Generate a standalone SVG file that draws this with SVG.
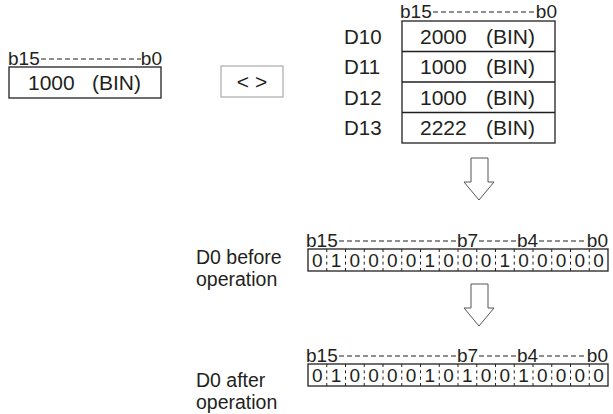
<svg xmlns="http://www.w3.org/2000/svg" width="613" height="414" viewBox="0 0 613 414">
<style>
text{font-family:"Liberation Sans",Arial,sans-serif;fill:#231f20}
.v{font-size:21px}
.l{font-size:20.5px}
.d{font-size:19.5px}
.h{font-size:19px}
.b{font-size:19px}
.box{fill:none;stroke:#231f20;stroke-width:1.3}
.dash{stroke:#231f20;stroke-width:1;stroke-dasharray:5 3;fill:none}
.sep{stroke:#231f20;stroke-width:1;stroke-dasharray:3 3.33}
.arrow{fill:#fff;stroke:#555;stroke-width:1}
</style>
<rect width="613" height="414" fill="#fff"/>
<g id="source">
<text class="h" x="8" y="65">b15</text>
<line class="dash" x1="41" y1="59" x2="141" y2="59"/>
<text class="h" x="162" y="65" text-anchor="end">b0</text>
<rect class="box" x="9" y="67" width="152" height="31"/>
<text class="v" x="28" y="90">1000</text>
<text class="v" x="92" y="90">(BIN)</text>
</g>
<g id="op">
<rect x="221" y="66" width="62" height="31" fill="#fff" stroke="#999" stroke-width="1"/>
<text class="v" x="252" y="89" text-anchor="middle">&lt; &gt;</text>
</g>
<g id="table">
<text class="h" x="400" y="18">b15</text>
<line class="dash" x1="433" y1="12" x2="535" y2="12"/>
<text class="h" x="557" y="18" text-anchor="end">b0</text>
<rect class="box" x="402" y="21" width="153" height="122"/>
<line class="box" x1="402" y1="51.5" x2="555" y2="51.5"/>
<line class="box" x1="402" y1="82" x2="555" y2="82"/>
<line class="box" x1="402" y1="112.5" x2="555" y2="112.5"/>
<text class="l" x="344" y="44">D10</text>
<text class="l" x="344" y="74">D11</text>
<text class="l" x="344" y="105">D12</text>
<text class="l" x="344" y="135">D13</text>
<text class="v" x="420" y="44">2000</text><text class="v" x="486" y="44">(BIN)</text>
<text class="v" x="420" y="74">1000</text><text class="v" x="486" y="74">(BIN)</text>
<text class="v" x="420" y="105">1000</text><text class="v" x="486" y="105">(BIN)</text>
<text class="v" x="420" y="135">2222</text><text class="v" x="486" y="135">(BIN)</text>
</g>
<g id="connectors">
<path class="arrow" d="M471,158 H488 V182 H494 L479,200 L464,182 H471 Z"/>
<path class="arrow" d="M471,284 H488 V308 H494 L479,326 L464,308 H471 Z"/>
</g>
<g id="before">
<text class="d" x="196" y="264">D0 before</text>
<text class="d" x="196" y="286">operation</text>
<text class="h" x="306" y="247">b15</text>
<line class="dash" x1="339" y1="241" x2="456" y2="241"/>
<text class="h" x="457" y="247">b7</text>
<line class="dash" x1="479" y1="241" x2="516" y2="241"/>
<text class="h" x="517" y="247">b4</text>
<line class="dash" x1="539" y1="241" x2="587" y2="241"/>
<text class="h" x="608" y="247" text-anchor="end">b0</text>
<rect class="box" x="308" y="249" width="300" height="22"/>
<g class="sep">
<line x1="326.75" y1="249" x2="326.75" y2="271"/><line x1="345.5" y1="249" x2="345.5" y2="271"/><line x1="364.25" y1="249" x2="364.25" y2="271"/><line x1="383" y1="249" x2="383" y2="271"/><line x1="401.75" y1="249" x2="401.75" y2="271"/><line x1="420.5" y1="249" x2="420.5" y2="271"/><line x1="439.25" y1="249" x2="439.25" y2="271"/><line x1="458" y1="249" x2="458" y2="271"/><line x1="476.75" y1="249" x2="476.75" y2="271"/><line x1="495.5" y1="249" x2="495.5" y2="271"/><line x1="514.25" y1="249" x2="514.25" y2="271"/><line x1="533" y1="249" x2="533" y2="271"/><line x1="551.75" y1="249" x2="551.75" y2="271"/><line x1="570.5" y1="249" x2="570.5" y2="271"/><line x1="589.25" y1="249" x2="589.25" y2="271"/>
</g>
<g class="b" text-anchor="middle">
<text x="317.4" y="267">0</text><text x="336.1" y="267">1</text><text x="354.9" y="267">0</text><text x="373.6" y="267">0</text><text x="392.4" y="267">0</text><text x="411.1" y="267">0</text><text x="429.9" y="267">1</text><text x="448.6" y="267">0</text><text x="467.4" y="267">0</text><text x="486.1" y="267">0</text><text x="504.9" y="267">1</text><text x="523.6" y="267">0</text><text x="542.4" y="267">0</text><text x="561.1" y="267">0</text><text x="579.9" y="267">0</text><text x="598.6" y="267">0</text>
</g>
</g>
<g id="after">
<text class="d" x="196" y="387">D0 after</text>
<text class="d" x="196" y="409">operation</text>
<text class="h" x="306" y="362">b15</text>
<line class="dash" x1="339" y1="356" x2="456" y2="356"/>
<text class="h" x="457" y="362">b7</text>
<line class="dash" x1="479" y1="356" x2="516" y2="356"/>
<text class="h" x="517" y="362">b4</text>
<line class="dash" x1="539" y1="356" x2="587" y2="356"/>
<text class="h" x="608" y="362" text-anchor="end">b0</text>
<rect class="box" x="308" y="364" width="300" height="22"/>
<g class="sep">
<line x1="326.75" y1="364" x2="326.75" y2="386"/><line x1="345.5" y1="364" x2="345.5" y2="386"/><line x1="364.25" y1="364" x2="364.25" y2="386"/><line x1="383" y1="364" x2="383" y2="386"/><line x1="401.75" y1="364" x2="401.75" y2="386"/><line x1="420.5" y1="364" x2="420.5" y2="386"/><line x1="439.25" y1="364" x2="439.25" y2="386"/><line x1="458" y1="364" x2="458" y2="386"/><line x1="476.75" y1="364" x2="476.75" y2="386"/><line x1="495.5" y1="364" x2="495.5" y2="386"/><line x1="514.25" y1="364" x2="514.25" y2="386"/><line x1="533" y1="364" x2="533" y2="386"/><line x1="551.75" y1="364" x2="551.75" y2="386"/><line x1="570.5" y1="364" x2="570.5" y2="386"/><line x1="589.25" y1="364" x2="589.25" y2="386"/>
</g>
<g class="b" text-anchor="middle">
<text x="317.4" y="382">0</text><text x="336.1" y="382">1</text><text x="354.9" y="382">0</text><text x="373.6" y="382">0</text><text x="392.4" y="382">0</text><text x="411.1" y="382">0</text><text x="429.9" y="382">1</text><text x="448.6" y="382">0</text><text x="467.4" y="382">1</text><text x="486.1" y="382">0</text><text x="504.9" y="382">0</text><text x="523.6" y="382">1</text><text x="542.4" y="382">0</text><text x="561.1" y="382">0</text><text x="579.9" y="382">0</text><text x="598.6" y="382">0</text>
</g>
</g>
</svg>
